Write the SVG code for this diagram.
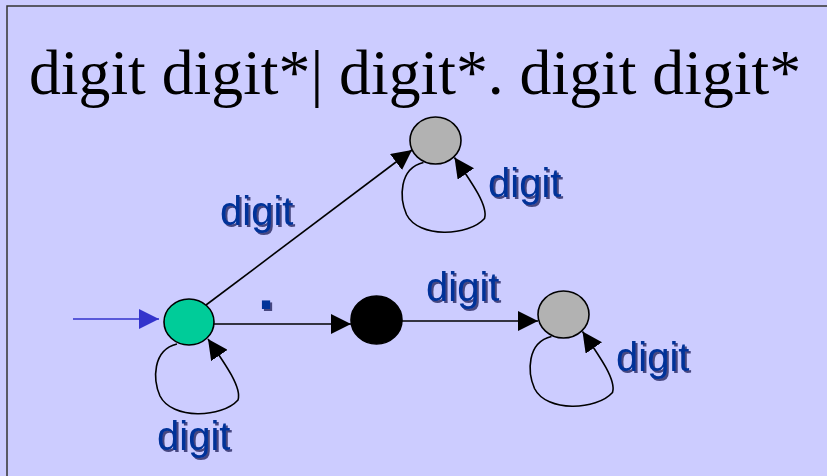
<svg xmlns="http://www.w3.org/2000/svg" width="827" height="476" viewBox="0 0 827 476">
<defs>
<style>
.title{font-family:"Liberation Serif","Times New Roman",serif;font-size:63px;fill:#000}
.lbl{font-family:"Liberation Sans",Arial,sans-serif;font-size:40px;fill:#003399;filter:url(#shadow)}
.dot{font-family:"Liberation Sans",Arial,sans-serif;font-size:58px;font-weight:bold;fill:#003399;filter:url(#shadow)}
.node{stroke:#000;stroke-width:1.6}
.edge{fill:none;stroke:#000;stroke-width:1.6}
</style>
<filter id="shadow" x="-10%" y="-10%" width="130%" height="130%">
<feOffset in="SourceAlpha" dx="2" dy="2" result="off"/>
<feFlood flood-color="#1a1a55" flood-opacity="0.75"/>
<feComposite in2="off" operator="in" result="sh"/>
<feMerge><feMergeNode in="sh"/><feMergeNode in="SourceGraphic"/></feMerge>
</filter>
<marker id="ah" markerUnits="userSpaceOnUse" markerWidth="20" markerHeight="20" viewBox="0 0 20 20" refX="20" refY="10" orient="auto">
<path d="M0,0 L20,10 L0,20 z" fill="#000"/>
</marker>
<marker id="ahb" markerUnits="userSpaceOnUse" markerWidth="20" markerHeight="20" viewBox="0 0 20 20" refX="20" refY="10" orient="auto">
<path d="M0,0 L20,10 L0,20 z" fill="#3333CC"/>
</marker>
<path id="loop" d="M-12,22 C-37,28 -36,58 -29,74 C-17,98 33,96 49,78 C53,66 37,43 19,17"/>
</defs>
<rect x="0" y="0" width="827" height="476" fill="#CCCCFF"/>
<rect x="7" y="6" width="840" height="490" fill="none" stroke="#333" stroke-width="1.5"/>
<text class="title" x="29" y="94" textLength="772" lengthAdjust="spacingAndGlyphs">digit digit*| digit*. digit digit*</text>

<g id="connectors">
<line x1="73" y1="319" x2="159" y2="319" stroke="#3333CC" stroke-width="1.6" marker-end="url(#ahb)"/>
<line class="edge" x1="206" y1="305" x2="412" y2="150" marker-end="url(#ah)"/>
<line class="edge" x1="214" y1="324" x2="351" y2="324" marker-end="url(#ah)"/>
<line class="edge" x1="402" y1="321" x2="538" y2="321" marker-end="url(#ah)"/>
<use href="#loop" class="edge" transform="translate(189,322)" marker-end="url(#ah)"/>
<use href="#loop" class="edge" transform="translate(435.5,140.5)" marker-end="url(#ah)"/>
<use href="#loop" class="edge" transform="translate(563.5,314.5)" marker-end="url(#ah)"/>
<text class="lbl" x="220" y="225">digit</text>
<text class="dot" x="258" y="309">.</text>
<text class="lbl" x="426" y="301">digit</text>
<text class="lbl" x="488" y="197">digit</text>
<text class="lbl" x="616" y="371">digit</text>
<text class="lbl" x="157" y="450">digit</text>
</g>

<g id="q0"><ellipse class="node" cx="189" cy="322" rx="25" ry="23" fill="#00CC99"/></g>
<g id="q1"><ellipse class="node" cx="435.5" cy="140.5" rx="25.5" ry="23.5" fill="#B2B2B2"/></g>
<g id="q2"><ellipse class="node" cx="376.5" cy="320" rx="25.5" ry="24" fill="#000"/></g>
<g id="q3"><ellipse class="node" cx="563.5" cy="314.5" rx="25.5" ry="23.5" fill="#B2B2B2"/></g>
</svg>
